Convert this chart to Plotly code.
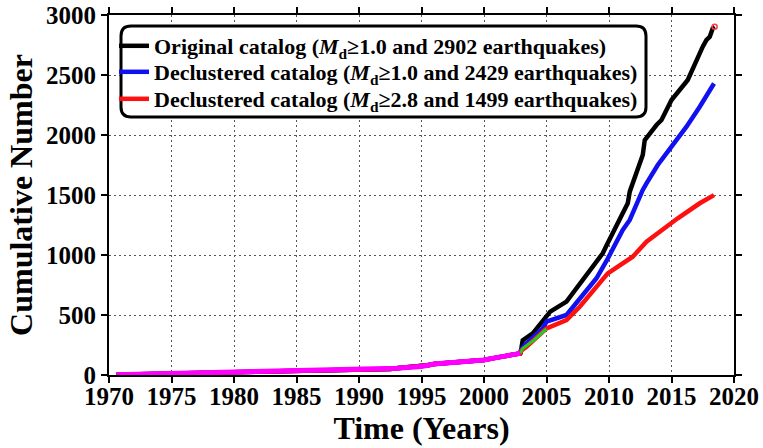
import plotly.graph_objects as go

# Shared early history (all catalogs coincide before 2003)
years_early = [1970.6, 1972.0, 1975.0, 1977.5, 1978.0, 1980.0, 1983.0, 1985.0, 1987.5,
               1988.0, 1990.0, 1992.5, 1993.0, 1995.0, 1995.5, 1996.0, 1997.0, 1998.0,
               1999.0, 2000.0, 2001.0, 2002.0, 2002.9]
count_early = [3, 6, 12, 15, 20, 22, 26, 30, 34, 40, 43, 50, 56, 70, 82, 92, 100, 107,
               115, 125, 145, 160, 180]

# Original catalog (Md >= 1.0)
years_orig = [2003.0, 2003.1, 2003.9, 2004.7, 2005.3, 2006.6, 2007.7, 2009.0, 2009.5,
              2009.9, 2010.85, 2011.5, 2011.66, 2012.06, 2012.7, 2012.86, 2013.26, 2013.8,
              2014.2, 2015.0, 2016.3, 2017.0, 2017.5, 2017.8, 2018.06, 2018.3, 2018.45]
count_orig = [230, 290, 347, 458, 528, 611, 764, 940, 1014, 1100, 1292, 1431, 1528, 1653,
              1833, 1958, 2014, 2083, 2125, 2292, 2458, 2625, 2736, 2792, 2819, 2889, 2902]

# Declustered catalog (Md >= 1.0)
years_decl1 = [2003.0, 2003.4, 2004.7, 2005.0, 2006.6, 2007.66, 2009.0, 2009.9, 2011.1,
               2011.66, 2012.2, 2012.7, 2013.0, 2013.9, 2015.0, 2016.2, 2017.26, 2018.06,
               2018.4]
count_decl1 = [215, 264, 389, 444, 500, 639, 806, 970, 1208, 1292, 1431, 1542, 1597, 1750,
               1903, 2069, 2236, 2375, 2429]

# Declustered catalog (Md >= 2.8)
years_decl28 = [2003.0, 2003.4, 2005.0, 2006.6, 2007.66, 2009.0, 2009.9, 2011.9, 2013.0,
                2014.06, 2015.5, 2017.26, 2018.4]
count_decl28 = [205, 236, 389, 458, 569, 736, 847, 986, 1111, 1194, 1306, 1431, 1499]

# Short transitional segment around the 2003 jump
years_green = [2002.9, 2003.1, 2004.0, 2004.9, 2005.0]
count_green = [180, 220, 290, 370, 385]

x_ticks = list(range(1970, 2021, 5))
y_ticks = list(range(0, 3001, 500))

legend_names = [
    "Original catalog (<i>M</i><sub>d</sub>≥1.0 and 2902 earthquakes)",
    "Declustered catalog (<i>M</i><sub>d</sub>≥1.0 and 2429 earthquakes)",
    "Declustered catalog (<i>M</i><sub>d</sub>≥2.8 and 1499 earthquakes)",
]

SERIF = "Liberation Serif"
W, H = 763, 448
ML, MR, MT, MB = 109, 29, 15, 73
PW, PH = W - ML - MR, H - MT - MB


def px_to_paper(px, py):
    return (px - ML) / PW, (H - MB - py) / PH


fig = go.Figure()

fig.add_trace(go.Scatter(x=years_early + years_orig, y=count_early + count_orig,
                         mode="lines", line=dict(color="black", width=4.5),
                         name=legend_names[0], legend="legend"))
fig.add_trace(go.Scatter(x=years_early + years_decl1, y=count_early + count_decl1,
                         mode="lines", line=dict(color="#1010f0", width=4.5),
                         name=legend_names[1], legend="legend2"))
fig.add_trace(go.Scatter(x=years_early + years_decl28, y=count_early + count_decl28,
                         mode="lines", line=dict(color="#ff1010", width=4.5),
                         name=legend_names[2], legend="legend3"))
fig.add_trace(go.Scatter(x=years_green, y=count_green, mode="lines",
                         line=dict(color="#22cc22", width=3), showlegend=False))
fig.add_trace(go.Scatter(x=years_early, y=count_early, mode="lines",
                         line=dict(color="#ff00ff", width=5), showlegend=False))
fig.add_trace(go.Scatter(x=[years_orig[-1]], y=[count_orig[-1]], mode="markers",
                         marker=dict(symbol="circle-open", size=5, color="#ff4040",
                                     line=dict(width=1.5)),
                         showlegend=False))


def rounded_rect(x0, y0, x1, y1, r):
    """SVG path of a rounded rectangle given in pixel coordinates, in paper units."""
    def p(x, y):
        a, b = px_to_paper(x, y)
        return f"{a:.5f},{b:.5f}"
    return " ".join([
        f"M{p(x0 + r, y0)}", f"L{p(x1 - r, y0)}", f"Q{p(x1, y0)} {p(x1, y0 + r)}",
        f"L{p(x1, y1 - r)}", f"Q{p(x1, y1)} {p(x1 - r, y1)}", f"L{p(x0 + r, y1)}",
        f"Q{p(x0, y1)} {p(x0, y1 - r)}", f"L{p(x0, y0 + r)}", f"Q{p(x0, y0)} {p(x0 + r, y0)}",
        "Z"])


fig.add_shape(type="path", xref="paper", yref="paper", layer="above",
              path=rounded_rect(121, 26, 646, 117, 10),
              line=dict(color="black", width=3), fillcolor="white")

tick_font = dict(family=SERIF, size=25, color="black", weight="bold")
title_font = dict(family=SERIF, size=32, color="black", weight="bold")
legend_font = dict(family=SERIF, size=22, color="black", weight="bold")


def legend_at(row_y):
    return dict(x=px_to_paper(114, 0)[0], y=px_to_paper(0, row_y)[1],
                xanchor="left", yanchor="middle",
                bgcolor="rgba(0,0,0,0)", borderwidth=0,
                font=legend_font, itemwidth=30)


fig.update_layout(
    width=W, height=H,
    margin=dict(l=ML, r=MR, t=MT, b=MB, autoexpand=False),
    paper_bgcolor="white", plot_bgcolor="white",
    showlegend=True,
    legend=legend_at(46),
    legend2=legend_at(72),
    legend3=legend_at(99),
    xaxis=dict(range=[1970, 2020], tickvals=x_ticks, ticktext=[str(v) for v in x_ticks],
               showline=True, linecolor="black", linewidth=2, mirror="ticks",
               ticks="outside", ticklen=6, tickwidth=2, tickcolor="black",
               showgrid=True, gridcolor="#555", gridwidth=1, griddash="2px,3px",
               zeroline=False, tickfont=tick_font, automargin=False,
               ticklabelstandoff=-8,
               title=dict(text="Time (Years)", font=title_font, standoff=0)),
    yaxis=dict(range=[0, 3000], tickvals=y_ticks, ticktext=[str(v) for v in y_ticks],
               showline=True, linecolor="black", linewidth=2, mirror="ticks",
               ticks="outside", ticklen=6, tickwidth=2, tickcolor="black",
               showgrid=True, gridcolor="#555", gridwidth=1, griddash="2px,3px",
               zeroline=False, tickfont=tick_font, automargin=False,
               title=dict(text="Cumulative Number", font=title_font, standoff=4)),
    xaxis2=dict(range=[1970, 2020], tickvals=x_ticks, overlaying="x", side="top",
                anchor="y", ticks="inside", ticklen=6, tickwidth=2, tickcolor="black",
                showticklabels=False, showgrid=False, zeroline=False, showline=False,
                automargin=False),
    yaxis2=dict(range=[0, 3000], tickvals=y_ticks, overlaying="y", side="right",
                anchor="x", ticks="inside", ticklen=6, tickwidth=2, tickcolor="black",
                showticklabels=False, showgrid=False, zeroline=False, showline=False,
                automargin=False),
)

fig.write_html("out.html")
